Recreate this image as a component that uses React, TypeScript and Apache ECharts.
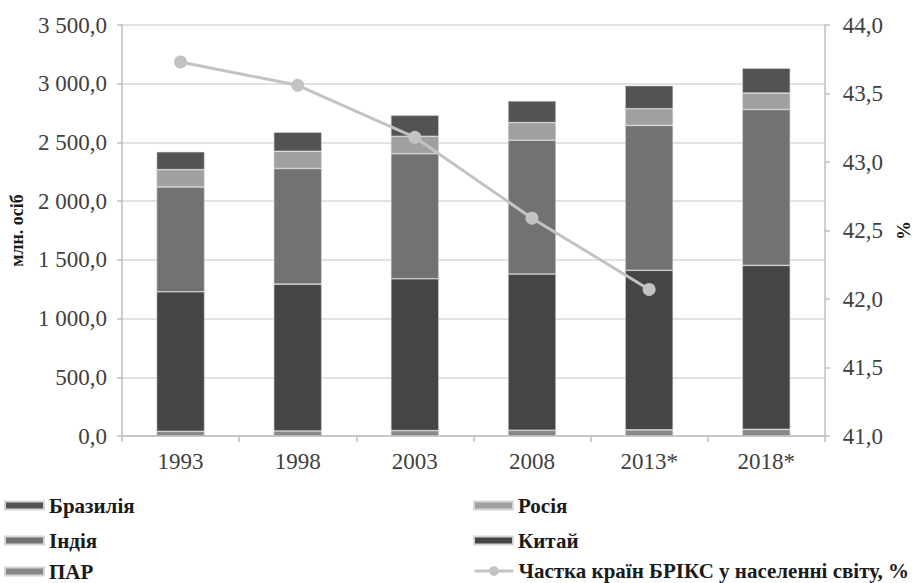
import React, { useEffect, useRef } from "react";
import * as echarts from "echarts";

const categories = ["1993", "1998", "2003", "2008", "2013*", "2018*"];
const southAfrica = [40, 43, 46, 49, 52, 56];
const china = [1188, 1250, 1293, 1330, 1359, 1397];
const india = [892, 985, 1065, 1140, 1234, 1327];
const russia = [148, 146, 148, 150, 142, 140];
const brazil = [152, 163, 179, 185, 197, 212];
const bricsShare = [43.73, 43.56, 43.18, 42.59, 42.07, null];

const legendNames = [
  "Бразилія",
  "Індія",
  "ПАР",
  "Росія",
  "Китай",
  "Частка країн БРІКС у населенні світу, %",
];

const FONT = "'Liberation Serif', 'Times New Roman', serif";

export default function App() {
  const ref = useRef<HTMLDivElement>(null);
  useEffect(() => {
    document.body.style.margin = "0";
    const chart = echarts.init(ref.current!, null, { renderer: "svg" });
    const barBase = {
      type: "bar",
      stack: "total",
      barWidth: 48,
      yAxisIndex: 0,
      itemStyle: { borderColor: "#d6d6d6", borderWidth: 0.6 },
    };
    const rowTops = [495, 530, 561];
    const colLefts = [4, 473];
    const legends = legendNames.map((n, i) => {
      const isLine = i === 5;
      return {
        orient: "horizontal",
        left: colLefts[Math.floor(i / 3)],
        top: isLine ? rowTops[2] - 2 : rowTops[i % 3],
        padding: 0,
        itemWidth: 39,
        itemHeight: isLine ? 12 : 8,
        icon: isLine ? undefined : "rect",
        lineStyle: isLine ? { width: 3, color: "#c3c3c3" } : undefined,
        textStyle: {
          fontFamily: FONT,
          fontWeight: "bold",
          fontSize: 21,
          lineHeight: isLine ? 24 : 20,
          color: "#1a1a1a",
        },
        data: [n],
      };
    });
    const tickLabel = { fontFamily: FONT, fontSize: 23, color: "#404040" };
    chart.setOption({
      animation: false,
      backgroundColor: "#ffffff",
      textStyle: { fontFamily: FONT },
      grid: { left: 118, right: 83, top: 25, bottom: 147 },
      legend: legends,
      xAxis: {
        type: "category",
        data: categories,
        boundaryGap: true,
        axisLine: { lineStyle: { color: "#bfbfbf", width: 1.5 } },
        axisTick: { show: true, length: 6, lineStyle: { color: "#bfbfbf", width: 1.5 } },
        axisLabel: { ...tickLabel, margin: 14 },
      },
      yAxis: [
        {
          type: "value",
          min: 0,
          max: 3500,
          interval: 500,
          name: "млн. осіб",
          nameLocation: "middle",
          nameGap: 96,
          nameTextStyle: { fontFamily: FONT, fontWeight: "bold", fontSize: 18, color: "#1a1a1a" },
          axisLine: { show: true, lineStyle: { color: "#bfbfbf", width: 1.5 } },
          axisTick: { show: true, length: 5, lineStyle: { color: "#bfbfbf", width: 1.5 } },
          axisLabel: {
            ...tickLabel,
            margin: 15,
            formatter: (v: number) => {
              const s = Math.round(v).toString().replace(/\B(?=(\d{3})+(?!\d))/g, " ");
              return s + ",0";
            },
          },
          splitLine: { show: true, lineStyle: { color: "#d9d9d9", width: 1.5 } },
        },
        {
          type: "value",
          min: 41,
          max: 44,
          interval: 0.5,
          name: "%",
          nameLocation: "middle",
          nameGap: 62,
          nameTextStyle: { fontFamily: FONT, fontWeight: "bold", fontSize: 19, color: "#1a1a1a", padding: [0, 0, 16, 0] },
          position: "right",
          axisLine: { show: true, lineStyle: { color: "#bfbfbf", width: 1.5 } },
          axisTick: { show: true, length: 5, lineStyle: { color: "#bfbfbf", width: 1.5 } },
          axisLabel: {
            ...tickLabel,
            margin: 18,
            formatter: (v: number) => v.toFixed(1).replace(".", ","),
          },
          splitLine: { show: false },
        },
      ],
      series: [
        { ...barBase, name: "ПАР", data: southAfrica, itemStyle: { ...barBase.itemStyle, color: "#888888" } },
        { ...barBase, name: "Китай", data: china, itemStyle: { ...barBase.itemStyle, color: "#454545" } },
        { ...barBase, name: "Індія", data: india, itemStyle: { ...barBase.itemStyle, color: "#727272" } },
        { ...barBase, name: "Росія", data: russia, itemStyle: { ...barBase.itemStyle, color: "#a0a0a0" } },
        { ...barBase, name: "Бразилія", data: brazil, itemStyle: { ...barBase.itemStyle, color: "#535353" } },
        {
          type: "line",
          name: "Частка країн БРІКС у населенні світу, %",
          yAxisIndex: 1,
          data: bricsShare,
          symbol: "circle",
          symbolSize: 13,
          itemStyle: { color: "#c3c3c3" },
          lineStyle: { color: "#c3c3c3", width: 3 },
        },
      ],
    });
    return () => chart.dispose();
  }, []);
  return <div ref={ref} style={{ width: 921, height: 583 }} />;
}
